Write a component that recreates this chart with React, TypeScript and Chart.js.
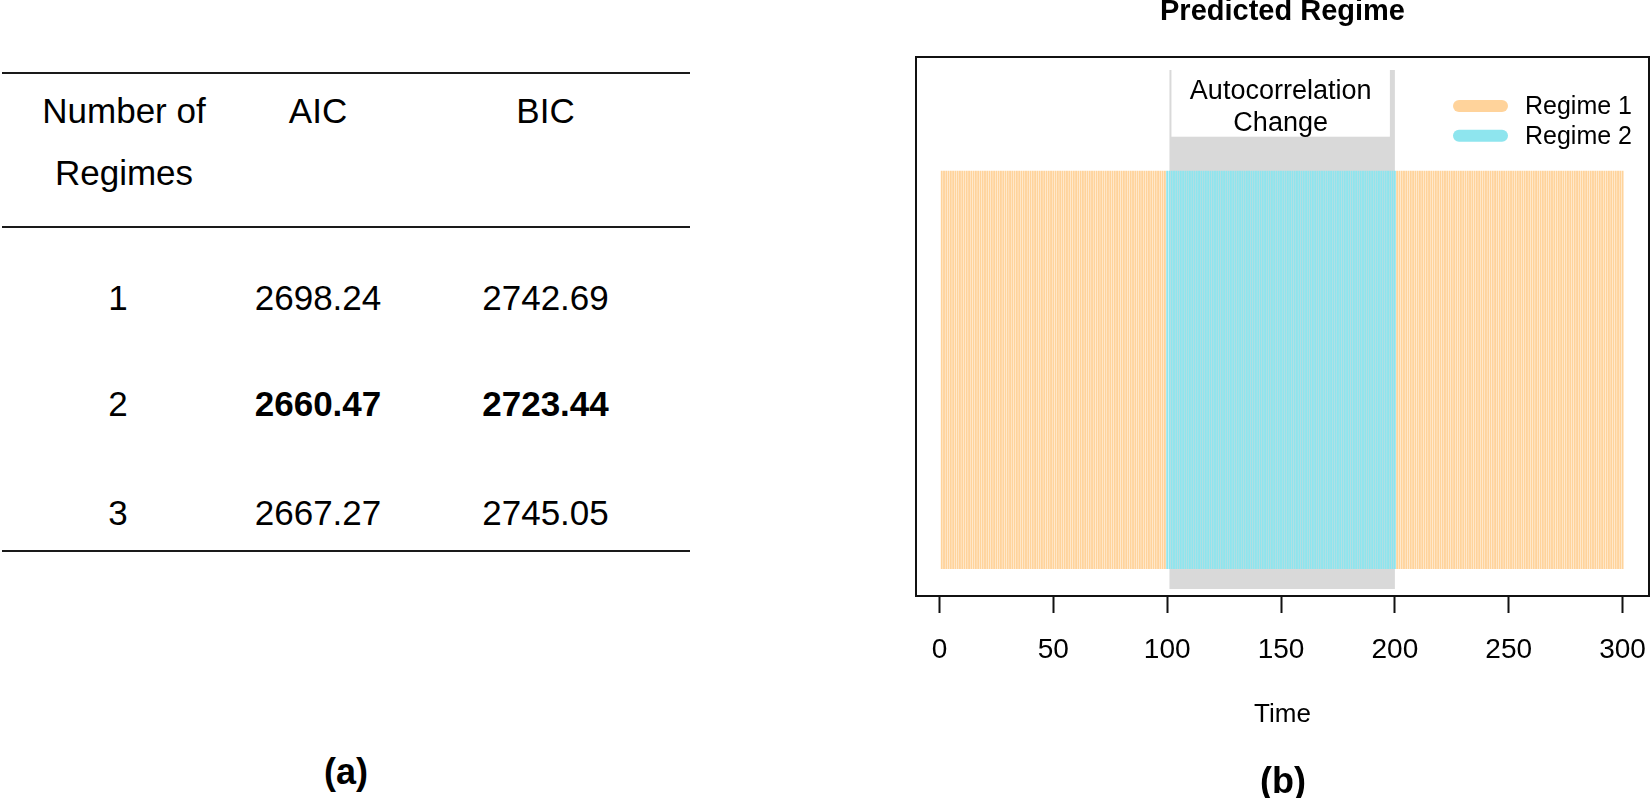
import React, { useEffect, useRef } from "react";
import { Chart, registerables } from "chart.js";

Chart.register(...registerables);

// ---------- Panel (a): model selection table ----------
const headerLines = [["Number of", "Regimes"], ["AIC"], ["BIC"]];
const regimeCounts = ["1", "2", "3"];
const aicValues = ["2698.24", "2660.47", "2667.27"];
const bicValues = ["2742.69", "2723.44", "2745.05"];
const bestRowIndex = 1;

// ---------- Panel (b): predicted regime over time ----------
const regimeRunStarts = [1, 100, 201];
const regimeRunEnds = [99, 200, 300];
const regimeRunValues = [1, 2, 1];
const regimeNames = ["Regime 1", "Regime 2"];
const regimeColors = ["#FFD39B", "#8EE5EE"];
const changeWindow = [101, 200];
const changeLabel = ["Autocorrelation", "Change"];
const xTickValues = [0, 50, 100, 150, 200, 250, 300];
const chartTitle = "Predicted Regime";
const xAxisTitle = "Time";

const FONT = "'Liberation Sans', Arial, Helvetica, sans-serif";

function buildDatasets() {
  const perRegime: { x: number; y: number[] }[][] = regimeNames.map(() => []);
  regimeRunStarts.forEach((start, i) => {
    for (let t = start; t <= regimeRunEnds[i]; t++) {
      perRegime[regimeRunValues[i] - 1].push({ x: t, y: [0, 1] });
    }
  });
  return regimeNames.map((name, i) => ({
    label: name,
    data: perRegime[i],
    backgroundColor: regimeColors[i],
    borderWidth: 0,
    barPercentage: 0.82,
    categoryPercentage: 1,
    grouped: false,
  }));
}

const bandPlugin = {
  id: "changeBand",
  beforeDatasetsDraw(chart: any) {
    const { ctx, chartArea: ca, scales } = chart;
    const xs = scales.x;
    const x0 = xs.getPixelForValue(changeWindow[0]);
    const x1 = xs.getPixelForValue(changeWindow[1]);
    const top = ca.top + 13;
    const bottom = ca.bottom - 7;
    ctx.save();
    ctx.fillStyle = "#D9D9D9";
    ctx.fillRect(x0, top, x1 - x0, bottom - top);
    const bx0 = x0 + 2;
    const bx1 = x1 - 5;
    ctx.fillStyle = "#FFFFFF";
    ctx.fillRect(bx0, top - 1, bx1 - bx0, 67.7);
    ctx.fillStyle = "#000";
    ctx.font = `27px ${FONT}`;
    ctx.textAlign = "center";
    ctx.textBaseline = "middle";
    const cx = (bx0 + bx1) / 2;
    ctx.fillText(changeLabel[0], cx, ca.top + 35);
    ctx.fillText(changeLabel[1], cx, ca.top + 66.5);
    ctx.restore();
  },
  afterDraw(chart: any) {
    const { ctx, chartArea: ca } = chart;
    ctx.save();
    ctx.strokeStyle = "#111";
    ctx.lineWidth = 2;
    ctx.strokeRect(ca.left, ca.top, ca.right - ca.left, ca.bottom - ca.top);
    // legend (top right, no box)
    chart.data.datasets.forEach((ds: any, i: number) => {
      const y = ca.top + 49 + i * 29.7;
      ctx.strokeStyle = ds.backgroundColor;
      ctx.lineWidth = 12;
      ctx.lineCap = "round";
      ctx.beginPath();
      ctx.moveTo(ca.right - 190, y);
      ctx.lineTo(ca.right - 147, y);
      ctx.stroke();
      ctx.fillStyle = "#000";
      ctx.font = `25px ${FONT}`;
      ctx.textAlign = "left";
      ctx.textBaseline = "middle";
      ctx.fillText(ds.label, ca.right - 124, y + 1);
    });
    ctx.restore();
  },
};

function RegimeChart() {
  const ref = useRef<HTMLCanvasElement | null>(null);
  useEffect(() => {
    if (!ref.current) return;
    Chart.defaults.font.family = FONT;
    Chart.defaults.color = "#000";
    const chart = new Chart(ref.current, {
      type: "bar",
      data: { datasets: buildDatasets() as any },
      options: {
        animation: false,
        responsive: false,
        devicePixelRatio: 1,
        layout: { autoPadding: false, padding: { left: 36, right: 2, top: 0, bottom: 0 } },
        plugins: {
          legend: { display: false },
          tooltip: { enabled: false },
          title: {
            display: true,
            text: chartTitle,
            color: "#000",
            font: { size: 29, weight: "bold", lineHeight: 0.85 },
            padding: { top: 0, bottom: 32.35 },
          },
        },
        scales: {
          x: {
            type: "linear",
            bounds: "data",
            min: -10.3,
            max: 311.6,
            offset: false,
            afterBuildTicks(scale: any) {
              scale.ticks = xTickValues.map((v) => ({ value: v }));
            },
            afterFit(scale: any) {
              scale.height = 202;
              scale.paddingLeft = 0;
              scale.paddingRight = 0;
            },
            grid: {
              display: true,
              offset: false,
              drawOnChartArea: false,
              drawTicks: true,
              tickLength: 17,
              tickWidth: 2,
              tickColor: "#111",
            },
            border: { display: false },
            ticks: {
              autoSkip: false,
              maxRotation: 0,
              padding: 20,
              color: "#000",
              font: { size: 28 },
            },
            title: {
              display: true,
              text: xAxisTitle,
              color: "#000",
              font: { size: 26, lineHeight: 1.2 },
              padding: { top: 0, bottom: 68 },
            },
          },
          y: {
            display: false,
            bounds: "data",
            min: -0.068,
            max: 1.286,
          },
        },
      } as any,
      plugins: [bandPlugin],
    });
    return () => chart.destroy();
  }, []);
  return (
    <canvas
      ref={ref}
      width={771}
      height={798}
      style={{ position: "absolute", left: 880, top: 0, width: 771, height: 798 }}
    />
  );
}

function Txt({ x, y, children, bold, size }: any) {
  return (
    <div
      style={{
        position: "absolute",
        left: x,
        top: y,
        transform: "translate(-50%, -50%)",
        whiteSpace: "nowrap",
        fontFamily: FONT,
        fontSize: size ?? 35,
        fontWeight: bold ? 700 : 400,
        lineHeight: 1,
        color: "#000",
      }}
    >
      {children}
    </div>
  );
}

function Rule({ y }: { y: number }) {
  return (
    <div
      style={{ position: "absolute", left: 2, top: y - 1, width: 688, height: 2, background: "#1a1a1a" }}
    />
  );
}

export default function App() {
  const colX = [121, 318, 545.5];
  const headerY = [110, 171.7];
  const rowY = [296.7, 403, 511.7];
  return (
    <div
      style={{
        position: "absolute",
        left: 0,
        top: 0,
        width: 1651,
        height: 798,
        background: "#fff",
        overflow: "hidden",
      }}
    >
      <Rule y={72.5} />
      <Rule y={226.5} />
      <Rule y={551} />
      {headerLines.map((lines, c) =>
        lines.map((l, k) => (
          <Txt key={`h${c}${k}`} x={colX[c] + (c === 0 ? 3 : 0)} y={headerY[k]}>
            {l}
          </Txt>
        ))
      )}
      {regimeCounts.map((r, i) => (
        <React.Fragment key={r}>
          <Txt x={colX[0] - 3} y={rowY[i]}>{r}</Txt>
          <Txt x={colX[1]} y={rowY[i]} bold={i === bestRowIndex}>{aicValues[i]}</Txt>
          <Txt x={colX[2]} y={rowY[i]} bold={i === bestRowIndex}>{bicValues[i]}</Txt>
        </React.Fragment>
      ))}
      <Txt x={346} y={772} bold size={36}>(a)</Txt>
      <RegimeChart />
      <Txt x={1283} y={781} bold size={36}>(b)</Txt>
    </div>
  );
}
